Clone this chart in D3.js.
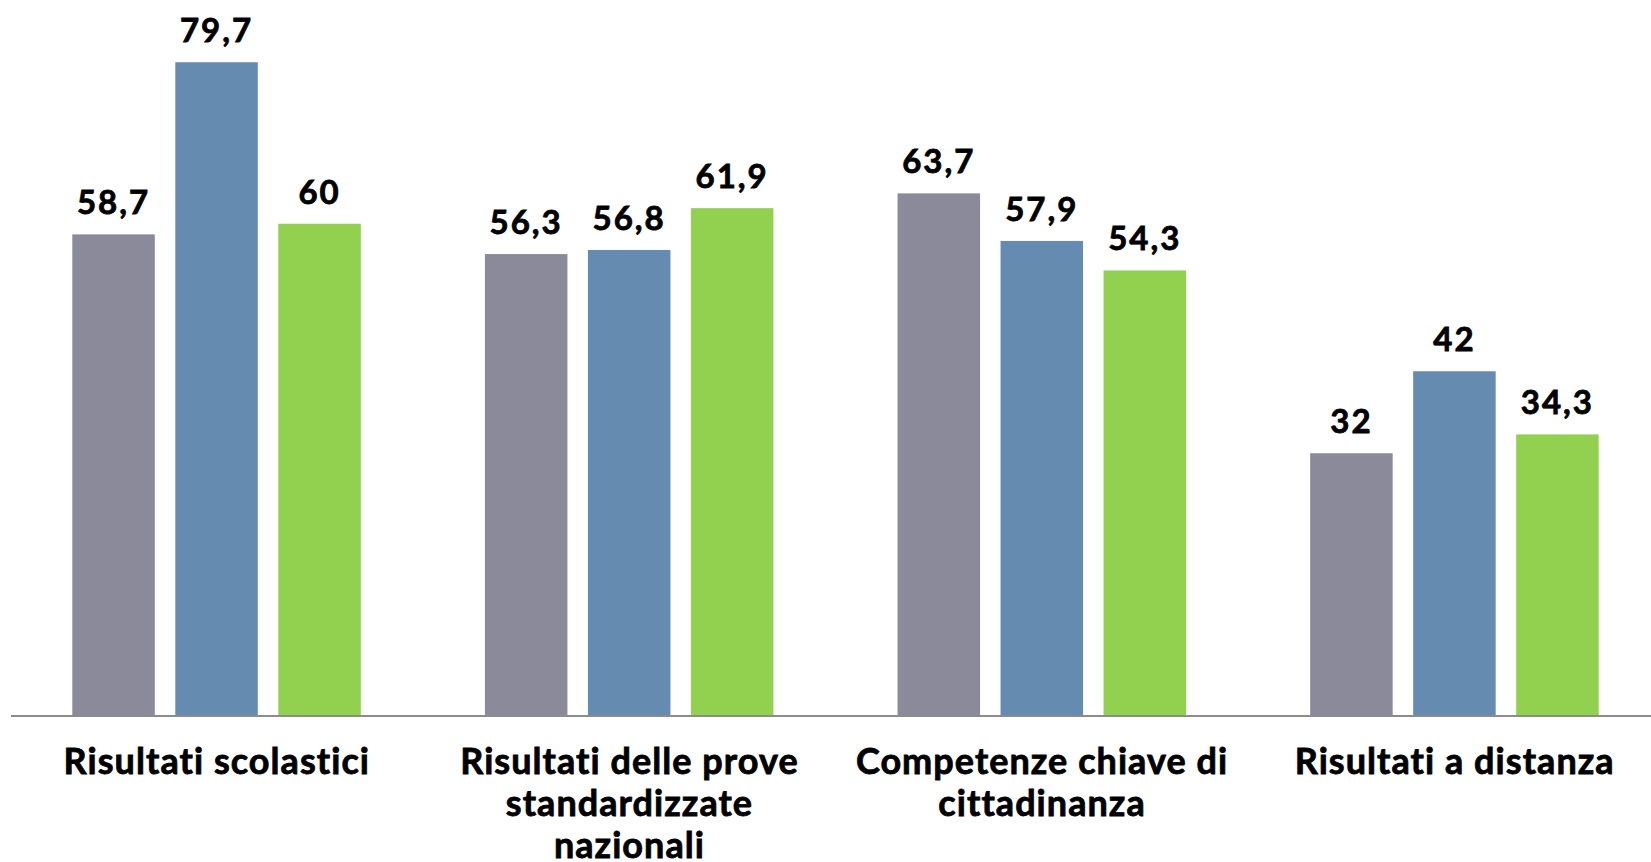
<!DOCTYPE html>
<html>
<head>
<meta charset="utf-8">
<script src="https://cdn.jsdelivr.net/npm/d3@7"></script>
<style>
  html, body { margin: 0; padding: 0; background: #ffffff; }
  svg { display: block; }
  text { font-family: Lato, "Open Sans", sans-serif; font-weight: 700; fill: #000; stroke: #000; stroke-width: 0.8px; }
</style>
</head>
<body>
<svg id="chart" width="1651" height="862"></svg>
<script>
// ---- data ----
const categories = [
  "Risultati scolastici",
  "Risultati delle prove\nstandardizzate\nnazionali",
  "Competenze chiave di\ncittadinanza",
  "Risultati a distanza"
];
const seriesNames = ["Serie 1", "Serie 2", "Serie 3"];
const serie1 = [58.7, 56.3, 63.7, 32];
const serie2 = [79.7, 56.8, 57.9, 42];
const serie3 = [60, 61.9, 54.3, 34.3];
const seriesValues = [serie1, serie2, serie3];
const seriesColors = ["#8b8a9b", "#658bb0", "#92d050"];

// ---- layout ----
const W = 1651, H = 862;
const svg = d3.select("#chart");
const baseY = 715.5;

const x0 = d3.scaleBand()
  .domain(categories)
  .range([10.5, 1661])
  .paddingInner(0)
  .paddingOuter(0);

const x1 = d3.scaleBand()
  .domain(seriesNames)
  .range([61.8, 61.8 + 82.5 * 3 + 20.5 * 2])
  .paddingInner(20.5 / 103)
  .paddingOuter(0);

const y = d3.scaleLinear()
  .domain([0, 80])
  .range([baseY, 59.8]);

const fmt = v => String(v).replace(".", ",");

const rows = [];
categories.forEach((c, i) => {
  seriesNames.forEach((s, j) => {
    rows.push({ cat: c, ser: s, value: seriesValues[j][i], color: seriesColors[j] });
  });
});

const g = svg.append("g");

g.selectAll("rect.bar")
  .data(rows)
  .join("rect")
  .attr("class", "bar")
  .attr("x", d => x0(d.cat) + x1(d.ser))
  .attr("y", d => y(d.value))
  .attr("width", x1.bandwidth())
  .attr("height", d => baseY - y(d.value))
  .attr("fill", d => d.color);

g.selectAll("text.val")
  .data(rows)
  .join("text")
  .attr("class", "val")
  .attr("x", d => x0(d.cat) + x1(d.ser) + x1.bandwidth() / 2)
  .attr("y", d => y(d.value) - 20)
  .attr("text-anchor", "middle")
  .attr("font-size", 33)
  .attr("letter-spacing", 2)
  .text(d => fmt(d.value));

// x axis
const xAxis = d3.axisBottom(x0).tickSize(0).tickFormat("");
const axisG = svg.append("g")
  .attr("transform", `translate(0,${baseY})`)
  .call(xAxis);
axisG.select(".domain").attr("stroke", "#8c8c8c").attr("stroke-width", 2);

// category labels
const labels = svg.append("g").selectAll("text.cat")
  .data(categories)
  .join("text")
  .attr("class", "cat")
  .attr("text-anchor", "middle")
  .attr("font-size", 36)
  .attr("letter-spacing", 1.05)
  .attr("x", d => x0(d) + x0.bandwidth() / 2)
  .attr("y", 774);

labels.each(function(d) {
  const t = d3.select(this);
  const cx = x0(d) + x0.bandwidth() / 2;
  d.split("\n").forEach((line, k) => {
    t.append("tspan")
      .attr("x", cx)
      .attr("dy", k === 0 ? 0 : 42)
      .text(line);
  });
});
</script>
</body>
</html>
